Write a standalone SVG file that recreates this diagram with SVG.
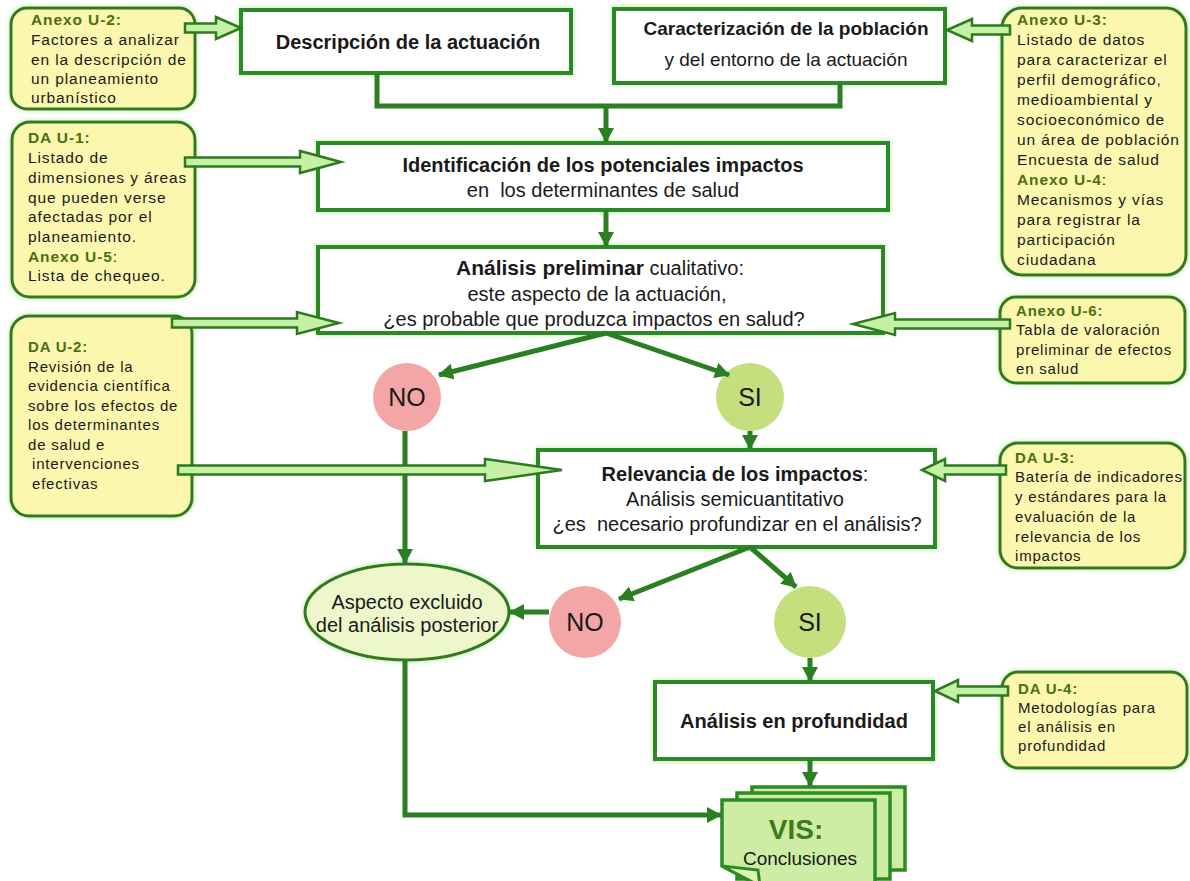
<svg xmlns="http://www.w3.org/2000/svg" width="1190" height="881" viewBox="0 0 1190 881">
<style>
text{font-family:"Liberation Sans",Arial,sans-serif;fill:#1a1a1a}
.ann{fill:#fbf7ae;stroke:#2d7a1f;stroke-width:3}
.box{fill:#fff;stroke:#2b8a26;stroke-width:4}
.at{font-size:15px;letter-spacing:0.8px}
.aw{font-size:15.5px;letter-spacing:0.9px}
.ah{font-weight:bold;fill:#4a6f14}
.mt{font-size:20px;text-anchor:middle}
.b{font-weight:bold}
.con{fill:none;stroke:#2a7f22;stroke-width:5}
.arr{marker-end:url(#ah)}
.hol{fill:#c6f0a6;stroke:#2d7a1f;stroke-width:2.5;stroke-linejoin:miter}
.no{fill:#f4a5a5}
.si{fill:#c5df7e}
.ct{font-size:25px;text-anchor:middle}
.pg{fill:#cdeda4;stroke:#2d8a22;stroke-width:3.5}
</style>
<defs>
<marker id="ah" markerUnits="userSpaceOnUse" markerWidth="18" markerHeight="18" refX="14" refY="8" orient="auto">
<path d="M0,0 L15,8 L0,16 Z" fill="#2a7f22"/>
</marker>
<filter id="glow" x="-10%" y="-10%" width="120%" height="120%">
<feFlood flood-color="#b8e6a0"/>
<feComposite in2="SourceAlpha" operator="in"/>
<feGaussianBlur stdDeviation="2.5"/>
<feMerge><feMergeNode/><feMergeNode in="SourceGraphic"/></feMerge>
</filter>
</defs>
<rect width="1190" height="881" fill="#fff"/>

<g id="anexo-u2">
<rect class="ann" x="11" y="8" width="184" height="101" rx="16" filter="url(#glow)"/>
<text class="aw"><tspan class="ah" x="31" y="25">Anexo U-2:</tspan><tspan x="31" y="45">Factores a analizar</tspan><tspan x="31" y="64.5">en la descripción de</tspan><tspan x="31" y="84">un planeamiento</tspan><tspan x="31" y="103">urbanístico</tspan></text>
</g>

<g id="da-u1">
<rect class="ann" x="12" y="122" width="183" height="175" rx="18" filter="url(#glow)"/>
<text class="aw"><tspan class="ah" x="28" y="143">DA U-1:</tspan><tspan x="28" y="163">Listado de</tspan><tspan x="28" y="183">dimensiones y áreas</tspan><tspan x="28" y="202.5">que pueden verse</tspan><tspan x="28" y="222">afectadas por el</tspan><tspan x="28" y="241.5">planeamiento.</tspan><tspan class="ah" x="28" y="261.5">Anexo U-5</tspan><tspan>:</tspan><tspan x="28" y="281">Lista de chequeo.</tspan></text>
</g>

<g id="da-u2">
<rect class="ann" x="11" y="316" width="181" height="200" rx="18" filter="url(#glow)"/>
<text class="at"><tspan class="ah" x="28" y="352">DA U-2:</tspan><tspan x="28" y="371.5">Revisión de la</tspan><tspan x="28" y="391">evidencia científica</tspan><tspan x="28" y="410.5">sobre los efectos de</tspan><tspan x="28" y="430">los determinantes</tspan><tspan x="28" y="449.5">de salud e</tspan><tspan x="32" y="469">intervenciones</tspan><tspan x="32" y="488.5">efectivas</tspan></text>
</g>

<g id="anexo-u3">
<rect class="ann" x="1002" y="8" width="184" height="267" rx="20" filter="url(#glow)"/>
<text class="aw"><tspan class="ah" x="1017" y="25">Anexo U-3:</tspan><tspan x="1017" y="45">Listado de datos</tspan><tspan x="1017" y="65">para caracterizar el</tspan><tspan x="1017" y="85">perfil demográfico,</tspan><tspan x="1017" y="105">medioambiental y</tspan><tspan x="1017" y="125">socioeconómico de</tspan><tspan x="1017" y="145">un área de población</tspan><tspan x="1017" y="165">Encuesta de salud</tspan><tspan class="ah" x="1017" y="185">Anexo U-4</tspan><tspan>:</tspan><tspan x="1017" y="205">Mecanismos y vías</tspan><tspan x="1017" y="225">para registrar la</tspan><tspan x="1017" y="245">participación</tspan><tspan x="1017" y="265">ciudadana</tspan></text>
</g>

<g id="anexo-u6">
<rect class="ann" x="1000" y="297" width="185" height="86" rx="16" filter="url(#glow)"/>
<text class="at"><tspan class="ah" x="1016" y="316">Anexo U-6:</tspan><tspan x="1016" y="335">Tabla de valoración</tspan><tspan x="1016" y="355">preliminar de efectos</tspan><tspan x="1016" y="374">en salud</tspan></text>
</g>

<g id="da-u3">
<rect class="ann" x="1000" y="443" width="185" height="125" rx="18" filter="url(#glow)"/>
<text class="at"><tspan class="ah" x="1015" y="463">DA U-3:</tspan><tspan x="1015" y="482">Batería de indicadores</tspan><tspan x="1015" y="502">y estándares para la</tspan><tspan x="1015" y="522">evaluación de la</tspan><tspan x="1015" y="542">relevancia de los</tspan><tspan x="1015" y="561">impactos</tspan></text>
</g>

<g id="da-u4">
<rect class="ann" x="1002" y="672" width="185" height="96" rx="16" filter="url(#glow)"/>
<text class="at"><tspan class="ah" x="1018" y="694">DA U-4:</tspan><tspan x="1018" y="713">Metodologías para</tspan><tspan x="1018" y="732">el análisis en</tspan><tspan x="1018" y="751">profundidad</tspan></text>
</g>

<g id="descripcion">
<rect class="box" x="241" y="10" width="330" height="63" filter="url(#glow)"/>
<text class="mt b" x="408" y="49">Descripción de la actuación</text>
</g>

<g id="caracterizacion">
<rect class="box" x="614" y="9" width="331" height="74" filter="url(#glow)"/>
<text class="b" x="786" y="35" font-size="19" text-anchor="middle">Caracterización de la población</text>
<text x="786" y="66" font-size="19" text-anchor="middle">y del entorno de la actuación</text>
</g>

<g id="identificacion">
<rect class="box" x="318" y="143" width="570" height="67" filter="url(#glow)"/>
<text class="mt b" x="603" y="172" font-size="21">Identificación de los potenciales impactos</text>
<text class="mt" x="603" y="197" xml:space="preserve">en  los determinantes de salud</text>
</g>

<g id="analisis-preliminar">
<rect class="box" x="318" y="247" width="565" height="86" filter="url(#glow)"/>
<text class="mt" x="600" y="275"><tspan class="b" font-size="21">Análisis preliminar</tspan> cualitativo:</text>
<text class="mt" x="597" y="301">este aspecto de la actuación,</text>
<text class="mt" x="594" y="326">¿es probable que produzca impactos en salud?</text>
</g>

<g id="no1"><circle class="no" cx="407" cy="397" r="34"/><text class="ct" x="407" y="406">NO</text></g>
<g id="si1"><circle class="si" cx="750" cy="397" r="34"/><text class="ct" x="750" y="406">SI</text></g>

<g id="relevancia">
<rect class="box" x="538" y="450" width="397" height="97" filter="url(#glow)"/>
<text class="mt" x="735" y="481"><tspan class="b">Relevancia de los impactos</tspan>:</text>
<text class="mt" x="735" y="506">Análisis semicuantitativo</text>
<text class="mt" x="737" y="531" xml:space="preserve">¿es  necesario profundizar en el análisis?</text>
</g>

<g id="excluido">
<ellipse cx="407" cy="612" rx="102" ry="48" fill="#eef6cc" stroke="#2d7a1f" stroke-width="3" filter="url(#glow)"/>
<text class="mt" x="407" y="609">Aspecto excluido</text>
<text class="mt" x="407" y="632">del análisis posterior</text>
</g>

<g id="no2"><circle class="no" cx="585" cy="622" r="36"/><text class="ct" x="585" y="631">NO</text></g>
<g id="si2"><circle class="si" cx="810" cy="622" r="36"/><text class="ct" x="810" y="631">SI</text></g>

<g id="profundidad">
<rect class="box" x="655" y="682" width="278" height="77" filter="url(#glow)"/>
<text class="mt b" x="794" y="728">Análisis en profundidad</text>
</g>

<g id="vis">
<rect class="pg" x="752" y="787" width="153" height="83"/>
<rect class="pg" x="737" y="793" width="153" height="86"/>
<path class="pg" d="M722,800 H875 V886 H760 L722,866 Z"/>
<path d="M722,866 L758,870 L760,886 Z" fill="#dff3b8" stroke="#2d8a22" stroke-width="3"/>
<text x="796" y="839" text-anchor="middle" font-size="28" font-weight="bold" style="fill:#3f7a1c">VIS:</text>
<text x="800" y="865" text-anchor="middle" font-size="19">Conclusiones</text>
</g>

<g id="connectors">
<polyline class="con" points="377,73 377,106 840,106 840,83"/>
<line class="con arr" x1="606" y1="106" x2="606" y2="142"/>
<line class="con arr" x1="606" y1="210" x2="606" y2="246"/>
<line class="con arr" x1="606" y1="333" x2="439" y2="375"/>
<line class="con arr" x1="606" y1="333" x2="729" y2="375"/>
<line class="con arr" x1="750" y1="431" x2="750" y2="449"/>
<line class="con arr" x1="405" y1="431" x2="405" y2="563"/>
<line class="con arr" x1="750" y1="547" x2="619" y2="599"/>
<line class="con arr" x1="750" y1="547" x2="796" y2="587"/>
<line class="con arr" x1="549" y1="612" x2="510" y2="612"/>
<line class="con arr" x1="810" y1="658" x2="810" y2="681"/>
<line class="con arr" x1="810" y1="759" x2="810" y2="786"/>
<polyline class="con arr" points="405,660 405,815 721,815"/>
<polygon class="hol" points="185,23.5 216,23.5 216,17 241,28 216,39 216,32.5 185,32.5"/>
<polygon class="hol" points="185,157.5 300,157.5 300,151 341,162 300,173 300,166.5 185,166.5"/>
<polygon class="hol" points="172,318.5 297,318.5 297,312 339,323 297,334 297,327.5 172,327.5"/>
<polygon class="hol" points="178,465.5 485,465.5 485,459 562,470 485,481 485,474.5 178,474.5"/>
<polygon class="hol" points="1010,25.5 972,25.5 972,19 947,30 972,41 972,34.5 1010,34.5"/>
<polygon class="hol" points="1010,319.5 895,319.5 895,313 853,324 895,335 895,328.5 1010,328.5"/>
<polygon class="hol" points="1006,465.5 945,465.5 945,459 922,470 945,481 945,474.5 1006,474.5"/>
<polygon class="hol" points="1008,686.5 958,686.5 958,680 935,691 958,702 958,695.5 1008,695.5"/>
</g>
</svg>
